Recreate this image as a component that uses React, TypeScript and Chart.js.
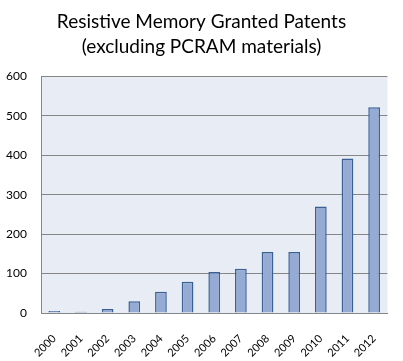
import React, { useEffect, useRef } from "react";
import { Chart, registerables } from "chart.js";

Chart.register(...registerables);

const years = ["2000", "2001", "2002", "2003", "2004", "2005", "2006", "2007", "2008", "2009", "2010", "2011", "2012"];
const patents = [5, 3, 10, 30, 54, 79, 104, 112, 155, 155, 270, 392, 522];
const titleLines = ["Resistive Memory Granted Patents", "(excluding PCRAM materials)"];
const yMin = 0;
const yMax = 600;
const yStep = 100;

const FONT = "Lato, 'Open Sans', sans-serif";

const plotBg = {
  id: "plotBg",
  beforeDraw(chart: any) {
    const { ctx, chartArea } = chart;
    if (!chartArea) return;
    ctx.save();
    ctx.fillStyle = "#E8ECF4";
    ctx.fillRect(chartArea.left, chartArea.top, chartArea.right - chartArea.left, chartArea.bottom - chartArea.top);
    ctx.restore();
  },
};

export default function App() {
  const ref = useRef<HTMLCanvasElement>(null);
  useEffect(() => {
    if (!ref.current) return;
    const chart = new Chart(ref.current, {
      type: "bar",
      data: {
        labels: years,
        datasets: [
          {
            data: patents,
            backgroundColor: "#95ABD3",
            borderColor: "#3A6195",
            borderWidth: 1.5,
            barPercentage: 0.44,
            categoryPercentage: 1,
          },
        ],
      },
      options: {
        animation: false,
        responsive: true,
        maintainAspectRatio: false,
        layout: { padding: { left: 0, right: 0, top: 0, bottom: 0 } },
        plugins: {
          legend: { display: false },
          tooltip: { enabled: false },
          title: {
            display: true,
            text: titleLines,
            color: "#000000",
            font: { family: FONT, size: 19, weight: "normal", lineHeight: 1.3 },
            padding: { top: 10, bottom: 17 },
          },
        },
        scales: {
          x: {
            grid: { display: false, drawTicks: false },
            border: { display: true, color: "#868686", width: 1 },
            ticks: {
              color: "#000000",
              font: { family: FONT, size: 11 },
              minRotation: 45,
              maxRotation: 45,
              autoSkip: false,
              padding: 19,
            },
            afterFit(scale: any) {
              scale.height = 48;
            },
          },
          y: {
            min: yMin,
            max: yMax,
            grid: { color: "#868686", lineWidth: 1, drawTicks: false },
            border: { display: true, color: "#868686", width: 1 },
            ticks: {
              stepSize: yStep,
              color: "#000000",
              font: { family: FONT, size: 12 },
              padding: 14,
            },
            afterFit(scale: any) {
              scale.width = 41;
            },
          },
          yRight: {
            type: "linear",
            position: "right",
            min: yMin,
            max: yMax,
            grid: { display: false, drawTicks: false },
            border: { display: false },
            ticks: { display: false },
            afterFit(scale: any) {
              scale.width = 14;
            },
          },
        },
      },
      plugins: [plotBg],
    });
    return () => chart.destroy();
  }, []);
  return (
    <div style={{ position: "absolute", left: 0, top: 0, width: 403, height: 361, background: "#ffffff" }}>
      <canvas ref={ref} />
    </div>
  );
}
